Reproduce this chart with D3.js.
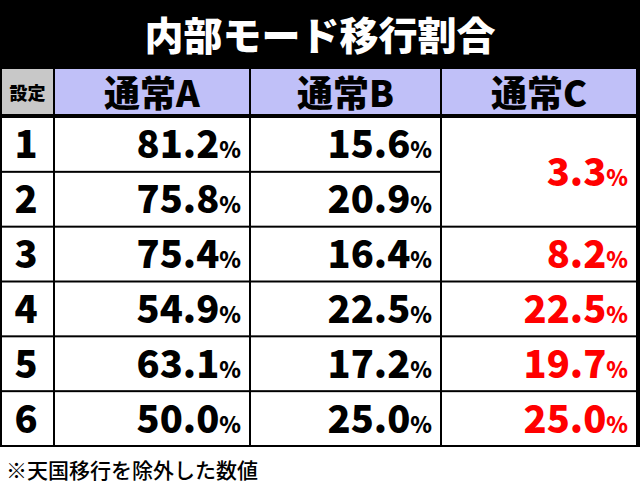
<!DOCTYPE html><html><head><meta charset="utf-8"><script src="https://cdn.jsdelivr.net/npm/d3@7"></script>
<style>body{margin:0;background:#fff}</style></head><body><script>
const title="内部モード移行割合";
const headers=["設定","通常A","通常B","通常C"];
const settings=["1","2","3","4","5","6"];
const seriesA=["81.2","75.8","75.4","54.9","63.1","50.0"];
const seriesB=["15.6","20.9","16.4","22.5","17.2","25.0"];
const seriesC=["3.3",null,"8.2","22.5","19.7","25.0"];
const note="※天国移行を除外した数値";
const W=640,H=489,F="'Noto Sans CJK JP',sans-serif";
const svg=d3.select("body").append("svg").attr("width",W).attr("height",H);
svg.append("rect").attr("width",W).attr("height",447).attr("fill","#000");
svg.append("text").attr("x",W/2).attr("y",50).attr("text-anchor","middle").attr("fill","#fff")
 .attr("font-family",F).attr("font-weight",900).attr("font-size",39).text(title);
const colX=[2,55,251,442,638];
const rowTop=d=>d==="h"?69:d3.scaleLinear().domain([0,6]).range([118,447])(settings.indexOf(d));
const rowH=d=>d==="h"?47:329/6;
headers.forEach((h,i)=>{
 svg.append("rect").attr("x",colX[i]).attr("y",rowTop("h")).attr("width",colX[i+1]-colX[i]-2).attr("height",rowH("h")-2)
  .attr("fill",i===0?"#c8c8c8":"#c0c0f8");
 svg.append("text").attr("x",(colX[i]+colX[i+1]-2)/2).attr("y",rowTop("h")+(i===0?31:38)).attr("text-anchor","middle")
  .attr("font-family",F).attr("font-weight",900).attr("font-size",i===0?18:36).text(h);
});
const cols=[seriesA,seriesB,seriesC];
settings.forEach((s,r)=>{
 const t=rowTop(s),h=rowH(s)-2;
 svg.append("rect").attr("x",colX[0]).attr("y",t).attr("width",colX[1]-colX[0]-2).attr("height",h).attr("fill","#fff");
 svg.append("text").attr("x",26).attr("y",t+h/2+14).attr("text-anchor","middle").attr("font-family",F).attr("font-weight",900).attr("font-size",38).text(s);
 cols.forEach((c,ci)=>{
  if(ci===2&&r===1)return;
  const merged=ci===2&&r===0;
  const hh=merged?h*2+2:h;
  svg.append("rect").attr("x",colX[ci+1]).attr("y",t).attr("width",colX[ci+2]-colX[ci+1]-2).attr("height",hh).attr("fill","#fff");
  const tx=svg.append("text").attr("x",colX[ci+2]-10).attr("y",t+hh/2+14).attr("text-anchor","end")
   .attr("font-family",F).attr("font-weight",900).attr("fill",ci===2?"#f00":"#000");
  tx.append("tspan").attr("font-size",38).text(c[r]);
  tx.append("tspan").attr("font-size",22).text("%");
 });
});
svg.append("text").attr("x",6).attr("y",478).attr("font-family",F).attr("font-weight",500).attr("font-size",21).text(note);
</script></body></html>
